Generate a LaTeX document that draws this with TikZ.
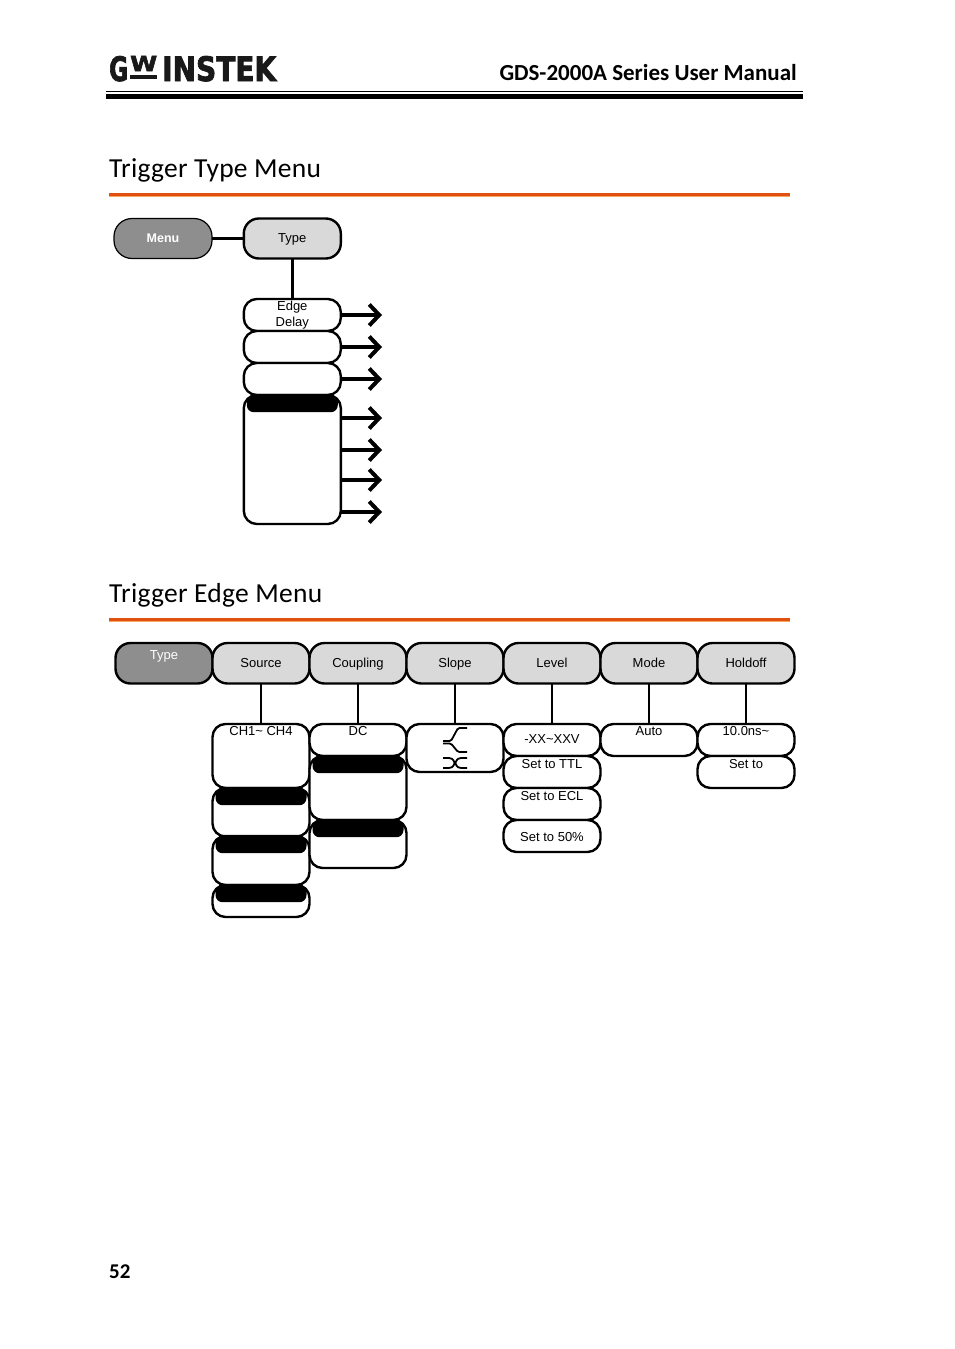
\documentclass[tikz,border=0pt]{standalone}
\usepackage{fontspec}
\setmainfont{Liberation Sans}
\newfontfamily\carl{Carlito}
\newfontfamily\logof[BoldFeatures={FakeBold=2.5}]{DejaVu Sans}
\usetikzlibrary{arrows.meta}
\definecolor{dgrey}{HTML}{8E8E8E}
\definecolor{lgrey}{HTML}{D9D9D9}
\definecolor{rulea}{HTML}{E2500F}
\definecolor{ruleb}{HTML}{F5A765}
\tikzset{
 x=1pt,y=-1pt,
 box/.style={draw=black,line width=2.4pt,rounded corners=13pt,fill=white,minimum width=97pt,inner sep=0pt,outer sep=0pt,anchor=north,align=center,font=\fontsize{13}{16}\selectfont},
 hh/.style={minimum height=#1},
 tt/.style n args={2}{text height=#1,text depth=#2-#1,minimum height=0pt},
 head/.style={box,rounded corners=15pt,fill=lgrey,tt={24pt}{40.5pt}},
 bar/.style={fill=black,draw=none,rounded corners=7pt,minimum width=91pt,minimum height=17pt,inner sep=0pt,anchor=north},
 conn/.style={draw=black,line width=2pt},
 thick conn/.style={draw=black,line width=3pt},
 arr/.style={draw=black,line width=3.4pt,-{Straight Barb[length=10pt,width=21pt,line width=4pt]}},
 title/.style={anchor=base west,inner sep=0pt,font=\carl\addfontfeatures{LetterSpace=1.0}\fontsize{27.5}{30}\selectfont},
 orule/.style={fill=rulea,draw=none},
 icon/.style={draw=black,line width=1.8pt},
 logo/.style={anchor=base west,inner sep=0pt,text=black!90,font=\logof\bfseries},
}
\begin{document}
\begin{tikzpicture}
\useasboundingbox (0,0) rectangle (954,1349);
\fill[white] (0,0) rectangle (954,1349);
% header
\node[logo] (lg) at (109,81) {\resizebox{19pt}{25pt}{G}};
\node[logo] (lw) at (130,71) {\resizebox{27pt}{15pt}{W}};
\fill[black!90] (130,75) rectangle (157,79);
\node[logo] (li) at (162,81) {\resizebox{114pt}{25pt}{INSTEK}};
\node[anchor=base east,inner sep=0pt,font=\carl\bfseries\fontsize{23}{26}\selectfont] (hd) at (797,80) {GDS-2000A Series User Manual};
\fill[black] (106,91.2) rectangle (803,92.4);
\fill[black] (106,94) rectangle (803,99);
% section 1
\node[title] (t1) at (109,177) {Trigger Type Menu};
\fill[ruleb] (109,193) rectangle (790,197.2);
\fill[orule] (109,193) rectangle (790,195.6);
\coordinate (a1) at (382,315);
\coordinate (a2) at (382,347);
\coordinate (a3) at (382,379);
\coordinate (a4) at (382,418);
\coordinate (a5) at (382,450);
\coordinate (a6) at (382,480);
\coordinate (a7) at (382,512);
\node[box,rounded corners=18pt,fill=dgrey,line width=1.2pt,text=white,tt={23.5pt}{40pt},minimum width=98pt,font=\bfseries\fontsize{12.5}{16}\selectfont] (menu) at (163,218.5) {Menu};
\node[head,tt={23.5pt}{40pt}] (type) at (292.3,218.5) {Type};
\node[box,hh=32pt] (e1) at (292.3,299) {Edge\\Delay};
\node[box,hh=32pt] (e2) at (292.3,331) {};
\node[box,hh=32pt] (e3) at (292.3,363) {};
\node[box,hh=129pt] (e4) at (292.3,395) {};
\node[bar] (e4b) at (292.3,395) {};
\draw[thick conn] (menu) -- (type);
\draw[thick conn] (type) -- (e1);
\draw[arr] (e1.east) -- (a1);
\draw[arr] (e2.east) -- (a2);
\draw[arr] (e3.east) -- (a3);
\draw[arr] (e4.east |- a4) -- (a4);
\draw[arr] (e4.east |- a5) -- (a5);
\draw[arr] (e4.east |- a6) -- (a6);
\draw[arr] (e4.east |- a7) -- (a7);
% section 2
\node[title] (t2) at (109,602) {Trigger Edge Menu};
\fill[ruleb] (109,618) rectangle (790,622.2);
\fill[orule] (109,618) rectangle (790,620.6);
% children
\node[box,tt={11.5pt}{64pt}] (s1) at (261,724) {CH1\textasciitilde{} CH4};
\node[box,hh=48.5pt] (s2) at (261,788) {};
\node[bar] (s2b) at (261,788) {};
\node[box,hh=49pt] (s3) at (261,836) {};
\node[bar] (s3b) at (261,836) {};
\node[box,hh=32pt] (s4) at (261,885) {};
\node[bar] (s4b) at (261,885) {};
\node[box,tt={11pt}{32pt}] (c1) at (358,724) {DC};
\node[box,hh=64pt] (c2) at (358,756) {};
\node[bar] (c2b) at (358,756) {};
\node[box,hh=48pt] (c3) at (358,820) {};
\node[bar] (c3b) at (358,820) {};
\node[box,hh=48pt] (sl) at (455,724) {};
\node[box,tt={19pt}{32pt}] (l1) at (552,724) {-XX\textasciitilde XXV};
\node[box,tt={12pt}{32pt}] (l2) at (552,756) {Set to TTL};
\node[box,tt={12pt}{32pt}] (l3) at (552,788) {Set to ECL};
\node[box,tt={21pt}{32pt}] (l4) at (552,820) {Set to 50\%};
\node[box,tt={11pt}{32pt}] (m1) at (649,724) {Auto};
\node[box,tt={11pt}{32pt}] (h1) at (746,724) {10.0ns\textasciitilde};
\node[box,tt={12pt}{32pt}] (h2) at (746,756) {Set to};
% heads
\node[head,fill=dgrey,text=white,tt={16.5pt}{40.5pt}] (ty) at (164,643) {Type};
\node[head] (src) at (261,643) {Source};
\node[head] (cpl) at (358,643) {Coupling};
\node[head] (slp) at (455,643) {Slope};
\node[head] (lvl) at (552,643) {Level};
\node[head] (mod) at (649,643) {Mode};
\node[head] (hld) at (746,643) {Holdoff};
\draw[conn] (src) -- (s1);
\draw[conn] (cpl) -- (c1);
\draw[conn] (slp) -- (sl);
\draw[conn] (lvl) -- (l1);
\draw[conn] (mod) -- (m1);
\draw[conn] (hld) -- (h1);
% slope icons
\draw[icon,rounded corners=1.5pt] (443,741) -- (451,741) -- (458,728) -- (467,728);
\draw[icon,rounded corners=1.5pt] (443,743.5) -- (451,743.5) -- (458,752) -- (467,752);
\draw[icon] (443,758) -- (449,758) .. controls (454,758) and (454,763) .. (455,763) .. controls (454,763) and (454,768) .. (449,768) -- (443,768);
\draw[icon] (467,758) -- (461,758) .. controls (456,758) and (456,763) .. (455,763) .. controls (456,763) and (456,768) .. (461,768) -- (467,768);
% page number
\node[anchor=base west,inner sep=0pt,font=\carl\bfseries\fontsize{21}{24}\selectfont] (pg) at (109,1278) {52};
\end{tikzpicture}
\end{document}
